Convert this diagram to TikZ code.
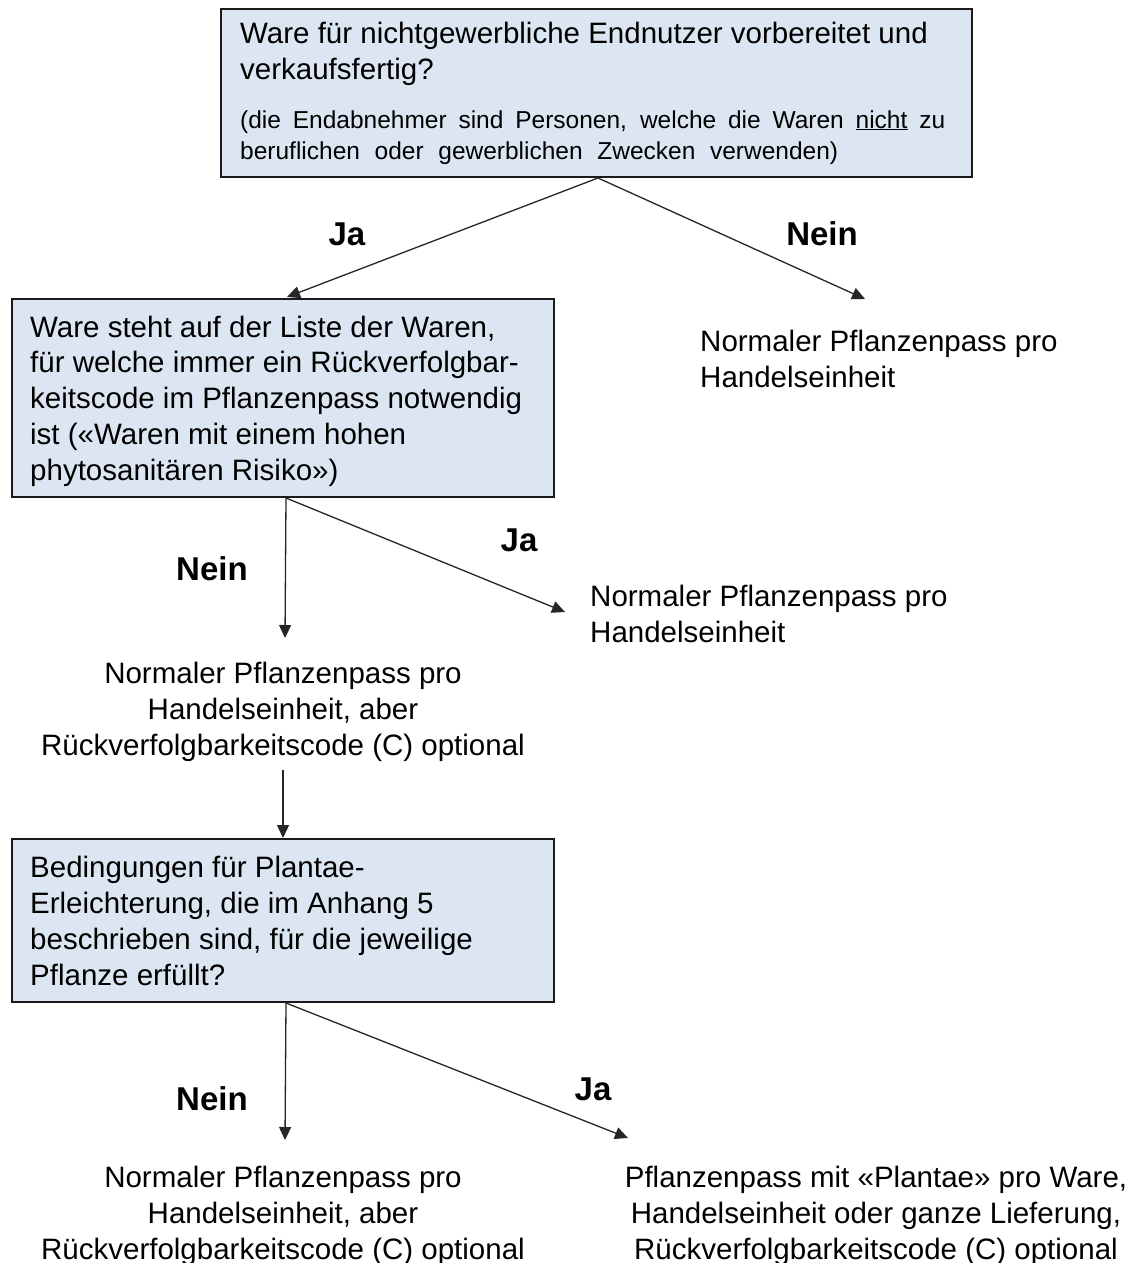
\documentclass[tikz,border=0pt]{standalone}
\usepackage{fontspec}
\setmainfont{Liberation Sans}
\usetikzlibrary{arrows.meta}
\definecolor{boxfill}{HTML}{DCE6F2}
\definecolor{boxline}{HTML}{1A1A1A}
\definecolor{arrcol}{HTML}{262626}
\begin{document}
\begin{tikzpicture}[x=1pt,y=-1pt,
  box/.style={draw=boxline, fill=boxfill, line width=2pt, inner sep=0pt, anchor=north west},
  txt/.style={font=\fontsize{29.5}{35.75}\selectfont, inner sep=0pt, align=left, anchor=base west},
  ctxt/.style={font=\fontsize{29.5}{36}\selectfont, inner sep=0pt, align=center, anchor=base},
  small/.style={font=\fontsize{24.5}{31}\selectfont, inner sep=0pt, align=left, anchor=base west},
  lbl/.style={font=\fontsize{33}{40}\selectfont\bfseries, inner sep=0pt, anchor=base},
  arr/.style={line width=1.3pt, draw=arrcol, -{Triangle[length=13pt,width=12pt]}}
]
\useasboundingbox (0,0) rectangle (1138,1263);
\fill[white] (0,0) rectangle (1138,1263);

% boxes
\node[box, minimum width=751pt, minimum height=168pt] (q1) at (220,8) {};
\node[box, minimum width=542pt, minimum height=198pt] (q2) at (11,298) {};
\node[box, minimum width=542pt, minimum height=163pt] (q3) at (11,838) {};

% box texts (anchor = baseline of last line)
\node[txt, font=\fontsize{29.5}{36}\selectfont] (q1t) at (240,80) {Ware für nichtgewerbliche Endnutzer vorbereitet und\\verkaufsfertig?};
\node[small] (q1s) at (240,159) {\makebox[705pt][s]{(die Endabnehmer sind Personen, welche die Waren \underline{nicht} zu}\\\makebox[598pt][s]{beruflichen oder gewerblichen Zwecken verwenden)}};
\node[txt] (q2t) at (30,480) {Ware steht auf der Liste der Waren,\\für welche immer ein Rückverfolgbar-\\keitscode im Pflanzenpass notwendig\\ist («Waren mit einem hohen\\phytosanitären Risiko»)};
\node[txt, font=\fontsize{29.5}{36}\selectfont] (q3t) at (30,985) {Bedingungen für Plantae-\\Erleichterung, die im Anhang 5\\beschrieben sind, für die jeweilige\\Pflanze erfüllt?};

% result texts
\node[txt, font=\fontsize{29.5}{36}\selectfont] (r1) at (700,387) {Normaler Pflanzenpass pro\\Handelseinheit};
\node[txt, font=\fontsize{29.5}{36}\selectfont] (r2) at (590,642) {Normaler Pflanzenpass pro\\Handelseinheit};
\node[ctxt] (r3) at (283,755) {Normaler Pflanzenpass pro\\Handelseinheit, aber\\Rückverfolgbarkeitscode (C) optional};
\node[ctxt] (r4) at (283,1259) {Normaler Pflanzenpass pro\\Handelseinheit, aber\\Rückverfolgbarkeitscode (C) optional};
\node[ctxt] (r5) at (876,1259) {Pflanzenpass mit «Plantae» pro Ware,\\Handelseinheit oder ganze Lieferung,\\Rückverfolgbarkeitscode (C) optional};

% labels
\node[lbl] (l1) at (347,245) {Ja};
\node[lbl] (l2) at (822,245) {Nein};
\node[lbl] (l3) at (212,580) {Nein};
\node[lbl] (l4) at (519,551) {Ja};
\node[lbl] (l5) at (212,1110) {Nein};
\node[lbl] (l6) at (593,1100) {Ja};

% arrow end points
\coordinate (e1) at (287,297);
\coordinate (e2) at (865,299);
\coordinate (e3) at (285,638);
\coordinate (e4) at (565,612);
\coordinate (e5) at (285,1140);
\coordinate (e6) at (628,1138);

% connectors
\draw[arr] ([xshift=1.5pt]q1.south) -- (e1);
\draw[arr] ([xshift=1.5pt]q1.south) -- (e2);
\draw[arr] ([xshift=3pt]q2.south) -- (e3);
\draw[arr] ([xshift=3pt]q2.south) -- (e4);
\draw[arr] (r3.south |- 0,770) -- (q3.north -| r3.south);
\draw[arr] ([xshift=3pt]q3.south) -- (e5);
\draw[arr] ([xshift=3pt]q3.south) -- (e6);
\end{tikzpicture}
\end{document}
